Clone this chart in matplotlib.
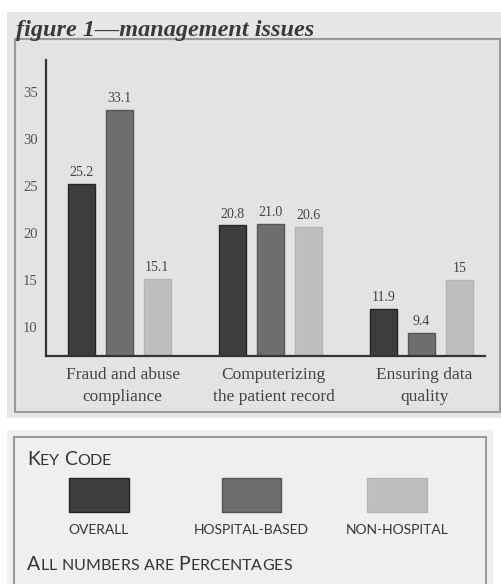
import matplotlib
matplotlib.use('Agg')
import matplotlib.pyplot as plt
from matplotlib.patches import Rectangle
import numpy as np

# management issues survey, values in percent
categories = ['Fraud and abuse\ncompliance', 'Computerizing\nthe patient record', 'Ensuring data\nquality']
series_names = ['OVERALL', 'HOSPITAL-BASED', 'NON-HOSPITAL']
overall = [25.2, 20.8, 11.9]
hospital = [33.1, 21.0, 9.4]
non_hospital = [15.1, 20.6, 15]
value_text = [['25.2', '20.8', '11.9'], ['33.1', '21.0', '9.4'], ['15.1', '20.6', '15']]
yticks = [10, 15, 20, 25, 30, 35]

colors = ['#3d3d3d', '#6e6e6e', '#bebebe']
edges = ['#262626', '#555555', '#b4b4b4']

W, H = 502, 584
fig = plt.figure(figsize=(W / 100, H / 100), dpi=100)
fig.patch.set_facecolor('white')


def fx(x):
    return x / W


def fy(y):
    return 1 - y / H


def box(x0, y0, x1, y1, **kw):
    fig.patches.append(Rectangle((fx(x0), fy(y1)), fx(x1) - fx(x0), fy(y0) - fy(y1),
                                 transform=fig.transFigure, figure=fig, **kw))


# chart panel
box(7, 12, 502, 418, facecolor='#e6e6e6', edgecolor='none', zorder=0)
box(15, 39, 500, 412, facecolor='#e3e3e3', edgecolor='#9a9a9a', linewidth=1.5, zorder=0.5)
# key panel
box(7, 430, 493, 590, facecolor='#f0f0f0', edgecolor='none', zorder=0)
box(14, 437, 486, 600, facecolor='#efefef', edgecolor='#9a9a9a', linewidth=1.5, zorder=0.5)

fig.text(fx(16), fy(36), 'figure 1\u2014management issues', family='Liberation Serif',
         style='italic', weight='bold', fontsize=17.5, color='#3a3a3a', va='baseline', ha='left')

ax = fig.add_axes([fx(46), fy(356), fx(485) - fx(46), fy(60) - fy(356)], zorder=2)
ax.set_facecolor('none')
x = np.arange(len(categories))
width = 0.18
step = 0.25
for i, vals in enumerate([overall, hospital, non_hospital]):
    pos = x + (i - 1) * step + 0.01
    ax.bar(pos, vals, width, color=colors[i], edgecolor=edges[i], linewidth=1, zorder=2)
    for p, v, t in zip(pos, vals, value_text[i]):
        ax.annotate(t, (p, v), xytext=(0, 3.5), textcoords='offset points', ha='center',
                    va='bottom', family='Liberation Serif', fontsize=10, color='#444444')

ax.set_ylim(6.9, 38.4)
ax.set_xlim(-0.477, 2.43)
ax.set_yticks(yticks)
ax.set_yticklabels([str(t) for t in yticks], family='Liberation Serif', fontsize=10.5, color='#555555')
ax.set_xticks(x + 0.03)
ax.set_xticklabels(categories, family='Liberation Serif', fontsize=12.5, color='#444444', linespacing=1.45)
ax.tick_params(length=0)
ax.tick_params(axis='y', pad=6)
ax.tick_params(axis='x', pad=8)
for s in ['top', 'right']:
    ax.spines[s].set_visible(False)
for s in ['left', 'bottom']:
    ax.spines[s].set_color('#333333')
    ax.spines[s].set_linewidth(1.6)

# key code
renderer = fig.canvas.get_renderer()
big, small = 14, 11.5


def small_caps(x0, y0, text, color='#333333', family='Lato'):
    # capitals drawn full size, everything else as smaller capitals
    xpos = fx(x0)
    for ch in text:
        size = big if ch.isupper() else small
        t = fig.text(xpos, fy(y0), ch.upper(), fontsize=size, family=family, color=color,
                     va='baseline', ha='left')
        bb = t.get_window_extent(renderer)
        xpos += bb.width / W if ch != ' ' else size * 0.3 / 72 * 100 / W


small_caps(27, 465, 'Key Code')
small_caps(27, 570, 'All numbers are Percentages')

swatch_x = [(69, 129), (222, 281), (367, 427)]
for (a, b), c, e, name in zip(swatch_x, colors, edges, series_names):
    box(a, 478, b, 512, facecolor=c, edgecolor=e, linewidth=1, zorder=2)
    fig.text(fx((a + b) / 2), fy(534), name, fontsize=10, family='Lato', color='#333333',
             ha='center', va='baseline')

fig.savefig('out.png', dpi=100)
